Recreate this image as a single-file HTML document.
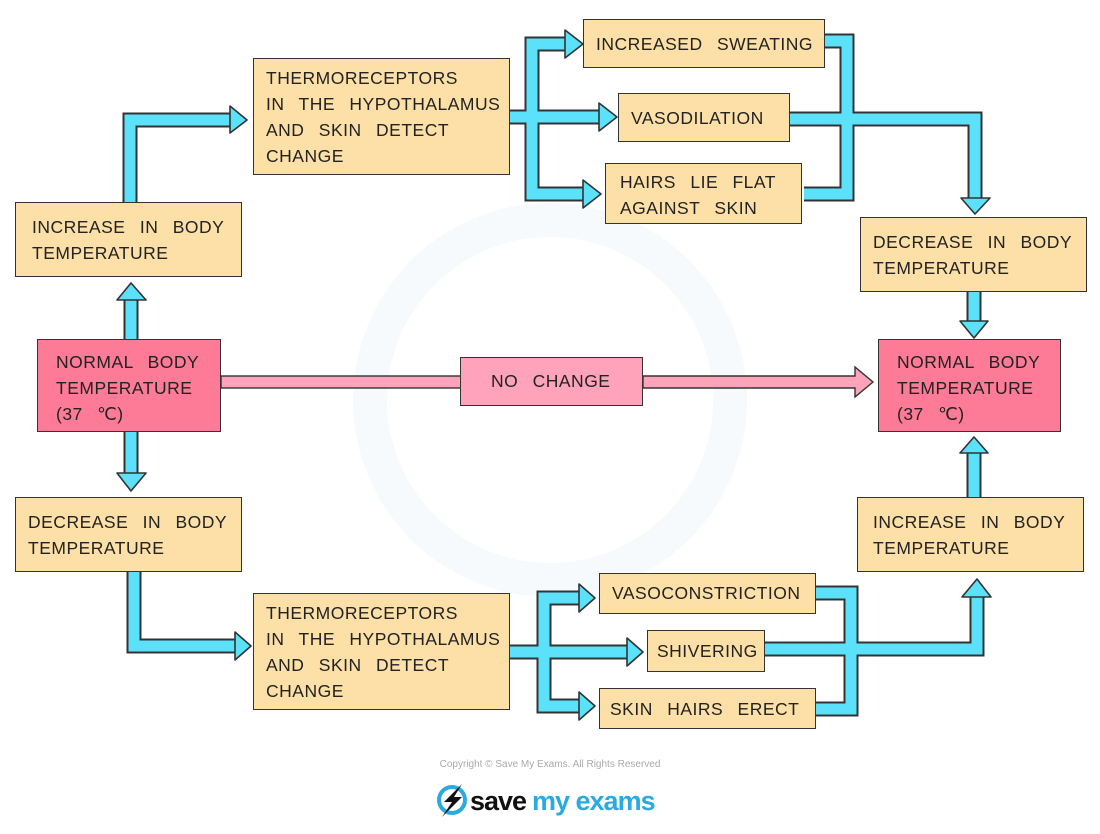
<!DOCTYPE html>
<html><head><meta charset="utf-8"><style>
body{margin:0;width:1100px;height:834px;background:#fff;position:relative;overflow:hidden;font-family:"Liberation Sans",sans-serif}
svg{position:absolute;left:0;top:0}
.b{position:absolute;box-sizing:border-box;border:1.6px solid #333;background:#fde0a7;color:#222;font-size:17.5px;line-height:26px;word-spacing:9px;letter-spacing:0.5px;padding:6px 0 0 12px}
.p{background:#fe7b97}
.q{background:#fea3b9}
</style></head><body>
<svg width="1100" height="834">
<circle cx="550" cy="400" r="180" fill="none" stroke="#f6fafd" stroke-width="34"/>
<g fill="none" stroke-linejoin="miter" stroke-linecap="butt">
<g stroke="#333" stroke-width="15">
<path d="M131 339V300"/><path d="M130 202V120H232"/>
<path d="M510 117H532V44H567M532 117H601M532 117V194H585"/>
<path d="M825 41H847V194H804M790 119H975V199"/>
<path d="M974 292V322"/><path d="M974 497V452"/>
<path d="M131 432V474"/><path d="M134 572V646H237"/>
<path d="M510 652H544V598H581M544 652H629M544 652V706H581"/>
<path d="M816 593H851V709H816M765 649H977V596"/>
</g>
<g stroke="#5ce1fb" stroke-width="11">
<path d="M131 339V300"/><path d="M130 202V120H232"/>
<path d="M510 117H532V44H567M532 117H601M532 117V194H585"/>
<path d="M825 41H847V194H804M790 119H975V199"/>
<path d="M974 292V322"/><path d="M974 497V452"/>
<path d="M131 432V474"/><path d="M134 572V646H237"/>
<path d="M510 652H544V598H581M544 652H629M544 652V706H581"/>
<path d="M816 593H851V709H816M765 649H977V596"/>
</g>
</g>
<g fill="#5ce1fb" stroke="#333" stroke-width="1.6" stroke-linejoin="round">
<polygon points="117,300 131,283 146,300"/>
<polygon points="230,106 247,120 230,133"/>
<polygon points="565,30 583,44 565,58"/>
<polygon points="599,103 617,117 599,131"/>
<polygon points="583,180 601,194 583,208"/>
<polygon points="961,198 975,214 990,198"/>
<polygon points="960,321 974,338 988,321"/>
<polygon points="960,453 974,437 988,453"/>
<polygon points="117,473 131,491 146,473"/>
<polygon points="235,632 251,646 235,660"/>
<polygon points="579,584 595,598 579,612"/>
<polygon points="627,638 643,652 627,666"/>
<polygon points="579,692 595,706 579,720"/>
<polygon points="962,597 977,579 991,597"/>
</g>
<rect x="221" y="376" width="240" height="12" fill="#fea3b9" stroke="#333" stroke-width="1.4"/>
<path d="M643 376H855V367L873 382L855 397V388H643Z" fill="#fea3b9" stroke="#333" stroke-width="1.4"/>
<text x="550" y="767" text-anchor="middle" font-family="Liberation Sans" font-size="10" fill="#aaa">Copyright © Save My Exams. All Rights Reserved</text>
<circle cx="452" cy="800" r="13" fill="none" stroke="#29abe2" stroke-width="4"/>
<polygon points="462,784 444,802 452,802 442,817 462,797 454,797" fill="#111"/>
<text x="470" y="810" font-family="Liberation Sans" font-size="27" font-weight="bold" fill="#111" letter-spacing="-1">save</text>
<text x="532" y="810" font-family="Liberation Sans" font-size="27" font-weight="bold" fill="#29abe2" letter-spacing="-1">my exams</text>
</svg>
<div class="b" style="left:253px;top:58px;width:257px;height:117px;">THERMORECEPTORS<br>IN THE HYPOTHALAMUS<br>AND SKIN DETECT<br>CHANGE</div>
<div class="b" style="left:15px;top:202px;width:227px;height:75px;padding-top:11px;padding-left:16px">INCREASE IN BODY<br>TEMPERATURE</div>
<div class="b p" style="left:37px;top:339px;width:184px;height:93px;padding-left:18px;padding-top:9px">NORMAL BODY<br>TEMPERATURE<br>(37 ℃)</div>
<div class="b" style="left:15px;top:497px;width:227px;height:75px;padding-top:11px">DECREASE IN BODY<br>TEMPERATURE</div>
<div class="b" style="left:253px;top:593px;width:257px;height:117px;">THERMORECEPTORS<br>IN THE HYPOTHALAMUS<br>AND SKIN DETECT<br>CHANGE</div>
<div class="b" style="left:583px;top:19px;width:242px;height:49px;padding-top:11px">INCREASED SWEATING</div>
<div class="b" style="left:618px;top:93px;width:172px;height:49px;padding-top:11px">VASODILATION</div>
<div class="b" style="left:605px;top:163px;width:197px;height:61px;padding-top:5px;padding-left:14px">HAIRS LIE FLAT<br>AGAINST SKIN</div>
<div class="b" style="left:860px;top:217px;width:227px;height:75px;padding-top:11px">DECREASE IN BODY<br>TEMPERATURE</div>
<div class="b p" style="left:878px;top:339px;width:183px;height:93px;padding-left:18px;padding-top:9px">NORMAL BODY<br>TEMPERATURE<br>(37 ℃)</div>
<div class="b q" style="left:460px;top:357px;width:183px;height:49px;padding-top:10px;padding-left:30px">NO CHANGE</div>
<div class="b" style="left:857px;top:497px;width:227px;height:75px;padding-top:11px;padding-left:15px">INCREASE IN BODY<br>TEMPERATURE</div>
<div class="b" style="left:599px;top:573px;width:217px;height:41px;padding-top:6px">VASOCONSTRICTION</div>
<div class="b" style="left:647px;top:630px;width:118px;height:42px;padding-top:7px;padding-left:9px">SHIVERING</div>
<div class="b" style="left:599px;top:688px;width:217px;height:41px;padding-top:7px;padding-left:10px">SKIN HAIRS ERECT</div>
</body></html>
